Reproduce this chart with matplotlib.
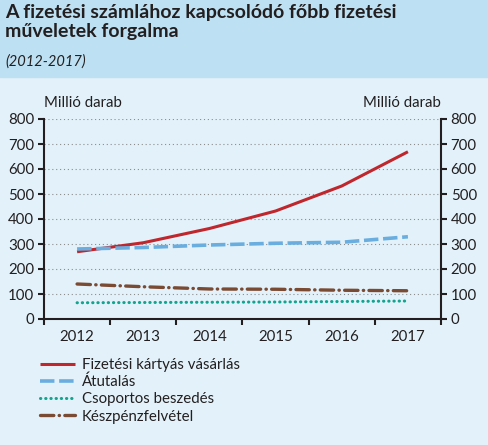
import matplotlib
matplotlib.use("Agg")
import matplotlib.pyplot as plt
from matplotlib.patches import Rectangle

plt.rcParams['font.family'] = ['Lato', 'DejaVu Sans']

# --- Data ---
years = ['2012', '2013', '2014', '2015', '2016', '2017']
kartya = [269, 305, 362, 432, 532, 669]
atutalas = [280, 286, 296, 303, 307, 329]
csoportos = [65, 66, 67, 68, 70, 72]
keszpenz = [140, 129, 120, 119, 115, 113]
yticks = [0, 100, 200, 300, 400, 500, 600, 700, 800]

labels = ['Fizetési kártyás vásárlás', 'Átutalás',
          'Csoportos beszedés', 'Készpénzfelvétel']

header_col = '#bde0f2'
body_col = '#e3f2fa'
text_col = '#231f20'

# --- Figure ---
fig = plt.figure(figsize=(4.89, 4.45), dpi=100)
fig.patch.set_facecolor(body_col)
fig.patches.append(Rectangle((0, 1 - 77 / 445), 1, 77 / 445,
                             transform=fig.transFigure, color=header_col,
                             zorder=0))
fig.text(5 / 489, 1 - 4 / 445, 'A fizetési számlához kapcsolódó főbb fizetési\nműveletek forgalma',
         ha='left', va='top', fontsize=14, fontweight='bold', color=text_col,
         linespacing=1.12)
fig.text(5 / 489, 1 - 54 / 445, '(2012-2017)', ha='left', va='top',
         fontsize=10.5, style='italic', color=text_col)

ax = fig.add_axes([44 / 489, 1 - 319 / 445, (441 - 44) / 489, 200 / 445])
ax.set_facecolor('none')
x = list(range(len(years)))

l1, = ax.plot(x, kartya, color='#c0272d', lw=2.2, solid_capstyle='butt')
l2, = ax.plot(x, atutalas, color='#6aaee0', lw=2.6, dashes=(4, 1.3))
l3, = ax.plot(x, csoportos, color='#12a48f', lw=2.2, dashes=(0.1, 1.6),
              dash_capstyle='round')
l4, = ax.plot(x, keszpenz, color='#7a4a33', lw=2.4,
              dashes=(4, 1.6, 0.1, 1.6), dash_capstyle='round')

ax.set_ylim(0, 800)
ax.set_xlim(-0.5, len(years) - 0.5)
ax.set_yticks(yticks)
ax.yaxis.grid(True, linestyle=(0, (1, 2.5)), color='#8c8c8c', lw=0.8)
ax.set_axisbelow(True)

# category ticks at boundaries, labels in the middle
ax.set_xticks([i - 0.5 for i in range(len(years) + 1)])
ax.set_xticklabels([])
ax.set_xticks(x, minor=True)
ax.set_xticklabels(years, minor=True)
ax.tick_params(axis='x', which='major', direction='out', length=4, width=1.5,
               color='#231f20')
ax.tick_params(axis='x', which='minor', length=0, pad=8, labelsize=10.8,
               labelcolor=text_col)
ax.tick_params(axis='y', direction='out', length=4, width=1.5, color='#231f20',
               labelsize=10.8, labelcolor=text_col, left=True, right=True,
               labelleft=True, labelright=True, pad=3)

for side in ['left', 'right', 'bottom']:
    ax.spines[side].set_linewidth(1.5)
    ax.spines[side].set_color('#231f20')
ax.spines['top'].set_visible(False)

fig.text(44 / 489, 1 - 103 / 445, 'Millió darab', ha='left', va='center',
         fontsize=10.8, color=text_col)
fig.text(441 / 489, 1 - 103 / 445, 'Millió darab', ha='right', va='center',
         fontsize=10.8, color=text_col)

fig.legend([l1, l2, l3, l4], labels, loc='upper left',
           bbox_to_anchor=(40 / 489, 1 - 358 / 445), frameon=False,
           fontsize=10.8, handlelength=2.3, handletextpad=0.5,
           labelspacing=0.2, borderpad=0, borderaxespad=0,
           labelcolor=text_col)

fig.savefig('out.png', dpi=100, facecolor=fig.get_facecolor())
